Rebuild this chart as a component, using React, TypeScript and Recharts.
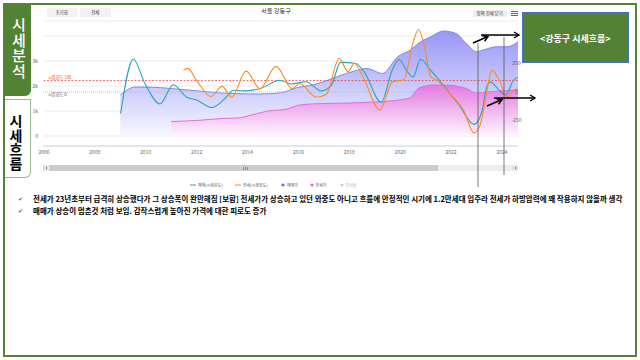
import React from 'react';
import { ComposedChart, Area, Line, XAxis, YAxis, CartesianGrid, ReferenceLine, Legend } from 'recharts';

// 매매가 (left axis)
const saleYears = [2009.0, 2009.6, 2010.3, 2011.3, 2012.3, 2013.3, 2014.5, 2015.3, 2016.0, 2016.6, 2017.2, 2017.6, 2018.2, 2018.7, 2019.3, 2019.9, 2020.4, 2020.8, 2021.2, 2021.7, 2022.2, 2022.6, 2023.0, 2023.25, 2023.8, 2024.2, 2024.63];
const salePrice = [1640, 1960, 1950, 1870, 1780, 1700, 1680, 1730, 1950, 2050, 2250, 2400, 2600, 2700, 2500, 3170, 3440, 3770, 3970, 4200, 4100, 3700, 3370, 3440, 3570, 3570, 3770];

// 전세가 (left axis)
const jeonseYears = [2011.0, 2012.0, 2013.0, 2013.6, 2014.2, 2014.8, 2015.5, 2016.1, 2017.0, 2018.0, 2019.0, 2019.8, 2020.4, 2020.65, 2020.9, 2021.3, 2021.8, 2022.2, 2022.6, 2023.0, 2023.4, 2023.9, 2024.63];
const jeonsePrice = [580, 620, 700, 720, 850, 1000, 1070, 1250, 1300, 1320, 1360, 1420, 1530, 1850, 1980, 2040, 2040, 2000, 1900, 1720, 1760, 1800, 1850];

// 매매(시장강도) (right axis)
const saleIdxYears = [2009.01, 2009.51, 2009.97, 2010.56, 2011.08, 2011.61, 2012.0, 2012.59, 2013.1, 2013.45, 2013.85, 2014.5, 2015.28, 2015.7, 2016.3, 2016.9, 2017.3, 2017.65, 2018.25, 2018.6, 2019.25, 2019.7, 2019.95, 2020.25, 2020.5, 2020.8, 2021.2, 2021.55, 2021.9, 2022.3, 2022.9, 2023.2, 2023.4, 2023.55, 2023.9, 2024.15, 2024.45, 2024.63];
const saleIdx = [-189, 287, 73, -105, 64, -46, -70, -136, -60, 15, 10, 30, 103, 70, 90, 10, 60, 260, 250, 170, -90, 200, 287, 190, 130, 287, 190, 100, 0, -110, -284, -180, 43, 87, 13, -25, 103, 130];

// 전세(시장강도) (right axis)
const jeonseIdxYears = [2011.48, 2011.65, 2012.0, 2012.56, 2013.0, 2013.38, 2013.94, 2014.49, 2015.12, 2015.75, 2016.05, 2016.7, 2017.1, 2017.6, 2017.95, 2018.2, 2018.6, 2019.2, 2019.7, 2020.15, 2020.5, 2020.72, 2020.95, 2021.2, 2021.45, 2021.95, 2022.5, 2022.9, 2023.15, 2023.4, 2023.6, 2023.9, 2024.2, 2024.45, 2024.63];
const jeonseIdx = [192, 207, 100, -40, 49, -46, 183, 29, 225, 29, 75, -46, -20, 296, 177, 252, 100, -159, 90, 110, 430, 549, 400, 132, 103, -16, -165, -359, -284, 0, 192, 103, -46, 13, 29];

const yearTicks = [2006, 2008, 2010, 2012, 2014, 2016, 2018, 2020, 2022, 2024];
const priceTicks = [0, 1000, 2000, 3000, 4000];
const indexTicks = [-250, 0, 250];
const legendLabels = ['매매(시장강도)', '전세(시장강도)', '매매가', '전세가', '전세율'];
const bulletLines = [
  '전세가 23년초부터 급격히 상승했다가 그 상승폭이 완만해짐 [보합] 전세가가 상승하고 있던 와중도 아니고 흐름에 안정적인 시기에 1.2만세대 입주라 전세가 하방압력에 꽤 작용하지 않을까 생각',
  '매매가 상승이 멈춘것 처럼 보임. 갑작스럽게 높아진 가격에 대한 피로도 증가',
];

const zip = (xs: number[], ys: number[]) => xs.map((x, i) => ({ x, v: ys[i] }));
const saleData = zip(saleYears, salePrice);
const jeonseData = zip(jeonseYears, jeonsePrice);
const saleIdxData = zip(saleIdxYears, saleIdx);
const jeonseIdxData = zip(jeonseIdxYears, jeonseIdx);

const FONT = "'Noto Sans CJK KR', 'Noto Sans', sans-serif";
const GREEN = '#548235';
const TEAL = '#26a4bd';
const ORANGE = '#ff8a1e';

const fmtK = (v: number) => (v === 0 ? '0' : v === 4000 ? '' : `${v / 1000}k`);

const RightTick = (props: any) => {
  const { x, y, payload } = props;
  return (
    <text x={x - 1.5} y={y} dy={1.8} textAnchor="middle" fontSize={5} fill="#666" fontFamily={FONT}>
      {payload.value}
    </text>
  );
};

const renderLegend = () => (
  <svg width={200} height={10} style={{ display: 'block', overflow: 'visible' }} fontFamily={FONT}>
    <line x1={10} x2={16} y1={5} y2={5} stroke={TEAL} strokeWidth={1} />
    <text x={18} y={5} dy={1.5} fontSize={4} fill="#555">{legendLabels[0]}</text>
    <line x1={55} x2={61} y1={5} y2={5} stroke={ORANGE} strokeWidth={1} />
    <text x={63} y={5} dy={1.5} fontSize={4} fill="#555">{legendLabels[1]}</text>
    <circle cx={103} cy={5} r={1.6} fill="#6d6af0" />
    <text x={107} y={5} dy={1.5} fontSize={4} fill="#555">{legendLabels[2]}</text>
    <circle cx={132} cy={5} r={1.6} fill="#ea5fe2" />
    <text x={135.5} y={5} dy={1.5} fontSize={4} fill="#555">{legendLabels[3]}</text>
    <circle cx={162} cy={5} r={1.6} fill="#cccccc" />
    <text x={165.5} y={5} dy={1.5} fontSize={4} fill="#bbb">{legendLabels[4]}</text>
  </svg>
);

const abs = (s: React.CSSProperties): React.CSSProperties => ({ position: 'absolute', boxSizing: 'border-box', ...s });

export default function App() {
  return (
    <div style={{ position: 'absolute', left: 0, top: 0, width: 640, height: 360, background: '#fff', fontFamily: FONT, overflow: 'hidden' }}>
      {/* slide frame */}
      <div style={abs({ left: 3, top: 3, width: 634, height: 354, border: `2px solid ${GREEN}` })} />
      {/* tabs */}
      <div style={abs({ left: 3, top: 3, width: 28, height: 93, background: GREEN, borderBottomRightRadius: 6 })} />
      <div style={abs({ left: 8.3, top: 17.2, width: 20, lineHeight: '20px', writingMode: 'vertical-lr', color: '#fff', fontSize: 15, letterSpacing: 0.5, fontWeight: 500 })}>
        시세분석
      </div>
      <div style={abs({ left: 5, top: 99, width: 26, height: 79, background: '#fff', border: '1px solid #9cb98a', borderLeft: 'none', borderBottomRightRadius: 6 })} />
      <div style={abs({ left: 6, top: 114, width: 20, lineHeight: '20px', writingMode: 'vertical-lr', color: '#000', fontSize: 14, letterSpacing: 0.3, fontWeight: 700 })}>
        시세흐름
      </div>

      {/* chart header */}
      <div style={abs({ left: 46.7, top: 8.3, width: 30, height: 8.4, background: '#f2f2f2', fontSize: 4.5, color: '#333', display: 'flex', alignItems: 'center', justifyContent: 'center' })}>초기화</div>
      <div style={abs({ left: 80, top: 8.3, width: 30.7, height: 8.4, background: '#f2f2f2', fontSize: 4.5, color: '#333', display: 'flex', alignItems: 'center', justifyContent: 'center' })}>전체</div>
      <div style={abs({ left: 240, top: 6, width: 72, textAlign: 'center', fontSize: 6.2, lineHeight: '9px', color: '#333' })}>서울 강동구</div>
      <div style={abs({ left: 472.7, top: 10, width: 34, height: 6.5, background: '#eeeeee', fontSize: 4.4, color: '#333', display: 'flex', alignItems: 'center', justifyContent: 'center', whiteSpace: 'nowrap' })}>정책 전체 닫기</div>
      <div style={abs({ left: 511, top: 10.6, width: 7, height: 1, background: '#666' })} />
      <div style={abs({ left: 511, top: 12.6, width: 7, height: 1, background: '#666' })} />
      <div style={abs({ left: 511, top: 14.6, width: 7, height: 1, background: '#666' })} />

      {/* chart */}
      <div style={abs({ left: 0, top: 0 })}>
        <ComposedChart width={640} height={180} margin={{ top: 21, right: 121, bottom: 20, left: 33 }}>
          <defs>
            <linearGradient id="saleGrad" x1="0" y1="0" x2="0" y2="1">
              <stop offset="0%" stopColor="#9896f7" />
              <stop offset="100%" stopColor="#f7f7ff" />
            </linearGradient>
            <linearGradient id="jeonseGrad" x1="0" y1="0" x2="0" y2="1">
              <stop offset="0%" stopColor="#e27ae2" />
              <stop offset="100%" stopColor="#fdf5fd" />
            </linearGradient>
          </defs>
          <CartesianGrid yAxisId="left" vertical={false} stroke="#e6e6e6" strokeWidth={0.8} />
          <XAxis
            type="number"
            dataKey="x"
            domain={[2005.96, 2024.63]}
            ticks={yearTicks}
            allowDataOverflow
            height={14}
            tickLine={false}
            tickSize={0}
            tickMargin={4}
            axisLine={{ stroke: '#ccd6eb' }}
            tick={{ fontSize: 5, fill: '#666', fontFamily: FONT }}
          />
          <YAxis
            yAxisId="left"
            domain={[-400, 4600]}
            ticks={priceTicks}
            allowDataOverflow
            width={10}
            axisLine={false}
            tickLine={false}
            tickSize={0}
            tickMargin={5}
            tickFormatter={fmtK}
            tick={{ fontSize: 5, fill: '#666', fontFamily: FONT }}
          />
          <YAxis
            yAxisId="right"
            orientation="right"
            domain={[-474, 623]}
            ticks={indexTicks}
            allowDataOverflow
            width={1}
            axisLine={false}
            tickLine={false}
            tickSize={0}
            tickMargin={0}
            tick={<RightTick />}
          />
          <Area yAxisId="left" data={saleData} dataKey="v" type="monotone" stroke="#8886ee" strokeWidth={1} fill="url(#saleGrad)" fillOpacity={1} dot={false} activeDot={false} isAnimationActive={false} />
          <Area yAxisId="left" data={jeonseData} dataKey="v" type="monotone" stroke="#e46ae0" strokeWidth={1} fill="url(#jeonseGrad)" fillOpacity={1} dot={false} activeDot={false} isAnimationActive={false} />
          <ReferenceLine yAxisId="right" y={100} stroke="#e8413c" strokeWidth={0.8} strokeDasharray="2 1.5"
            label={{ value: '시장강도 100', position: 'insideLeft', offset: 5, fontSize: 4.2, fill: '#e8413c', dy: -3 }} />
          <ReferenceLine yAxisId="right" y={0} stroke="#8fc6f2" strokeWidth={0.9} strokeDasharray="1 1"
            label={{ value: '시장강도 0', position: 'insideLeft', offset: 5, fontSize: 4.2, fill: '#555', dy: 2.5 }} />
          <Line yAxisId="right" data={saleIdxData} dataKey="v" type="monotone" stroke={TEAL} strokeWidth={1.1} dot={false} activeDot={false} isAnimationActive={false} />
          <Line yAxisId="right" data={jeonseIdxData} dataKey="v" type="monotone" stroke={ORANGE} strokeWidth={1.1} dot={false} activeDot={false} isAnimationActive={false} />
          <Legend layout="horizontal" verticalAlign="middle" align="center"
            wrapperStyle={{ position: 'absolute', left: 180, top: 180, width: 200, height: 10 }}
            content={renderLegend} />
        </ComposedChart>
      </div>

      {/* scrollbar */}
      <div style={abs({ left: 43, top: 165, width: 475, height: 6, background: '#eeeeee' })} />
      <div style={abs({ left: 43, top: 165, width: 7, height: 6, background: '#e4e4e4' })} />
      <div style={abs({ left: 45.5, top: 167, width: 1.2, height: 2, background: '#777' })} />
      <div style={abs({ left: 50, top: 165, width: 387.7, height: 6, background: '#cccccc' })} />
      <div style={abs({ left: 243, top: 166.5, width: 0.7, height: 3, background: '#888' })} />
      <div style={abs({ left: 245, top: 166.5, width: 0.7, height: 3, background: '#888' })} />
      <div style={abs({ left: 247, top: 166.5, width: 0.7, height: 3, background: '#888' })} />
      <div style={abs({ left: 511.5, top: 165, width: 6.5, height: 6, background: '#e4e4e4' })} />
      <div style={abs({ left: 514.5, top: 167, width: 1.2, height: 2, background: '#777' })} />

      {/* annotation box */}
      <div style={abs({ left: 522, top: 12, width: 106.5, height: 50.5, background: GREEN, border: '1px solid #4472c4', color: '#fff', fontSize: 9, fontWeight: 700, display: 'flex', alignItems: 'center', justifyContent: 'center', paddingTop: 3 })}>
        {'<강동구 시세흐름>'}
      </div>

      {/* annotation lines & arrows */}
      <svg width={640} height={360} style={{ position: 'absolute', left: 0, top: 0, pointerEvents: 'none' }}>
        <defs>
          <marker id="ah" markerUnits="userSpaceOnUse" markerWidth={8} markerHeight={8} refX={6} refY={4} orient="auto">
            <path d="M1,1 L6,4 L1,7" fill="none" stroke="#000" strokeWidth={1.4} />
          </marker>
        </defs>
        <line x1={478} y1={43} x2={478} y2={187} stroke="#555" strokeWidth={0.8} />
        <line x1={504} y1={37} x2={504} y2={175} stroke="#555" strokeWidth={0.8} />
        <line x1={473} y1={43} x2={488} y2={36.5} stroke="#000" strokeWidth={1.6} markerEnd="url(#ah)" />
        <line x1={481} y1={35} x2={519} y2={35} stroke="#000" strokeWidth={1.6} markerEnd="url(#ah)" />
        <line x1={487} y1={106} x2={502} y2={99.5} stroke="#000" strokeWidth={1.6} markerEnd="url(#ah)" />
        <line x1={494} y1={98} x2={535} y2={98} stroke="#000" strokeWidth={1.6} markerEnd="url(#ah)" />
      </svg>

      {/* bullet text */}
      {bulletLines.map((t, i) => (
        <React.Fragment key={i}>
          <div style={abs({ left: 18, top: 195 + i * 12, fontSize: 6, lineHeight: '8px', fontFamily: "'DejaVu Sans', sans-serif", fontWeight: 700, color: '#000000' })}>{'\u2713'}</div>
          <div style={abs({ left: 33, top: 194 + i * 11.5, fontSize: 7.5, lineHeight: '9px', fontWeight: 700, color: '#000', whiteSpace: 'nowrap' })}>{t}</div>
        </React.Fragment>
      ))}
    </div>
  );
}
